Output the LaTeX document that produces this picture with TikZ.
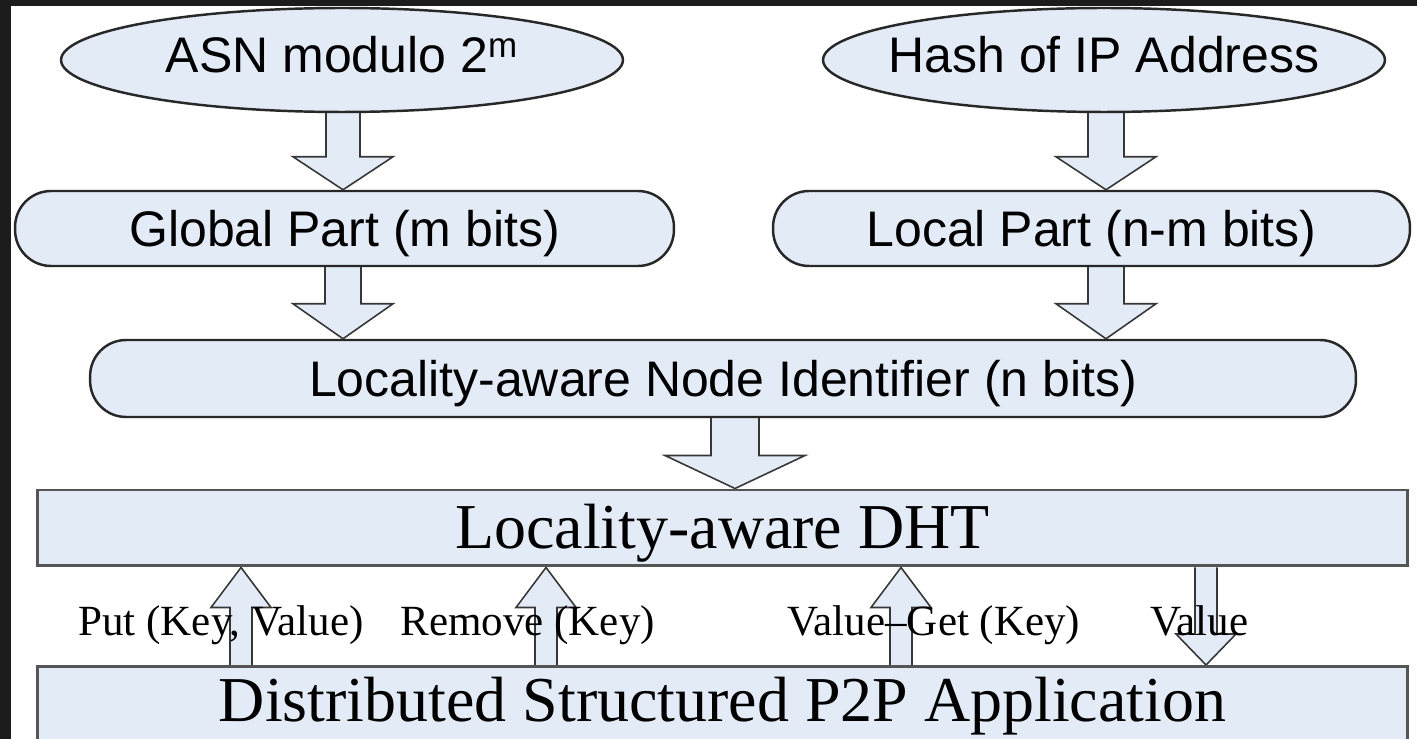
\documentclass[tikz,border=0pt]{standalone}
\usepackage{fontspec}
\setmainfont{Liberation Serif}
\newfontfamily\arialf{Liberation Sans}
\usetikzlibrary{shapes.geometric,calc,backgrounds}
\definecolor{fillc}{RGB}{227,235,247}
\definecolor{linec}{RGB}{40,40,40}
\definecolor{arrc}{RGB}{55,55,55}
\definecolor{boxline}{RGB}{85,85,85}
\definecolor{framec}{RGB}{28,28,28}
\def\pxu{0.56906pt}
% block arrow: #1 x (px), #2 start anchor, #3 tip anchor, #4 shaft half width, #5 head half width, #6 signed head length
\newcommand\blockarrow[6]{%
  \path[blockarrowstyle] let \p1=({#1},0), \p2=(#2), \p3=(#3) in
    ({\x1-#4*\pxu},{\y2}) -- ({\x1-#4*\pxu},{\y3+(#6)*\pxu})
    -- ({\x1-#5*\pxu},{\y3+(#6)*\pxu}) -- ({\x1},{\y3})
    -- ({\x1+#5*\pxu},{\y3+(#6)*\pxu}) -- ({\x1+#4*\pxu},{\y3+(#6)*\pxu})
    -- ({\x1+#4*\pxu},{\y2});}
\tikzset{
  blockarrowstyle/.style={draw=arrc, fill=fillc, line width=0.9pt, line join=miter},
  ellip/.style={ellipse, draw=linec, line width=1.4pt, fill=fillc, inner ysep=0pt, inner xsep=-0.4cm,
    minimum width=11.24cm, minimum height=2.08cm,
    font=\arialf\fontsize{28.45}{32}\selectfont, text height=0.72cm, text depth=0.2cm},
  rbox/.style={rectangle, rounded corners=0.72cm, draw=linec, line width=1.4pt, fill=fillc,
    inner sep=0pt, minimum height=1.5cm,
    font=\arialf\fontsize{28.45}{32}\selectfont, text height=0.76cm, text depth=0.04cm},
  sbox/.style={rectangle, draw=boxline, line width=1.7pt, fill=fillc, inner xsep=0pt,
    minimum width=27.42cm, font=\fontsize{36.4}{40}\selectfont},
  lbl/.style={anchor=base west, inner sep=0pt, font=\fontsize{24.5}{28}\selectfont}
}
\begin{document}
\begin{tikzpicture}[x=0.02cm, y=-0.02cm]
\useasboundingbox (0,0) rectangle (1417,739);
% nodes
\node[ellip] (asn) at (342,60) {ASN modulo 2\textsuperscript{m}};
\node[ellip] (hash) at (1104,60) {Hash of IP Address};
\node[rbox, minimum width=13.18cm] (glob) at (344.5,228.5) {Global Part (m bits)};
\node[rbox, minimum width=12.74cm] (loc) at (1091.5,228.5) {Local Part (n-m bits)};
\node[rbox, minimum width=25.32cm, minimum height=1.54cm] (nid) at (723,378.5) {Locality-aware Node Identifier (n bits)};
\node[sbox, minimum height=1.52cm, inner ysep=0pt, text height=0.9cm, text depth=0.06cm] (dht) at (722.5,528) {Locality-aware DHT};
\node[sbox, anchor=north, inner ysep=0.2cm, text height=0.9cm, text depth=0.8cm] (app) at (722.5,665) {Distributed Structured P2P Application};
% block arrows
\begin{scope}[on background layer]
\fill[white] (0,0) rectangle (1417,739);
\blockarrow{343}{asn.south}{glob.north}{17}{50}{33}
\blockarrow{1106}{hash.south}{loc.north}{18}{50}{33}
\blockarrow{343}{glob.south}{nid.north}{18}{50}{35}
\blockarrow{1106}{loc.south}{nid.north}{18}{50}{35}
\blockarrow{735}{nid.south}{dht.north}{24}{70}{33}
\blockarrow{241}{app.north}{dht.south}{11}{30}{-40}
\blockarrow{546}{app.north}{dht.south}{11}{30}{-40}
\blockarrow{901}{app.north}{dht.south}{11}{30}{-40}
\blockarrow{1206}{dht.south}{app.north}{11}{30}{31}
\end{scope}
% labels
\node[lbl] (l1) at (78,636) {Put (Key, Value)};
\node[lbl] (l2) at (400,636) {Remove (Key)};
\node[lbl] (l3) at (787,636) {Value–Get (Key)};
\node[lbl] (l4) at (1150,636) {Value};
% dark frame
\fill[framec] (0,0) rectangle (11,739);
\fill[framec] (0,0) rectangle (1417,6);
\end{tikzpicture}
\end{document}
